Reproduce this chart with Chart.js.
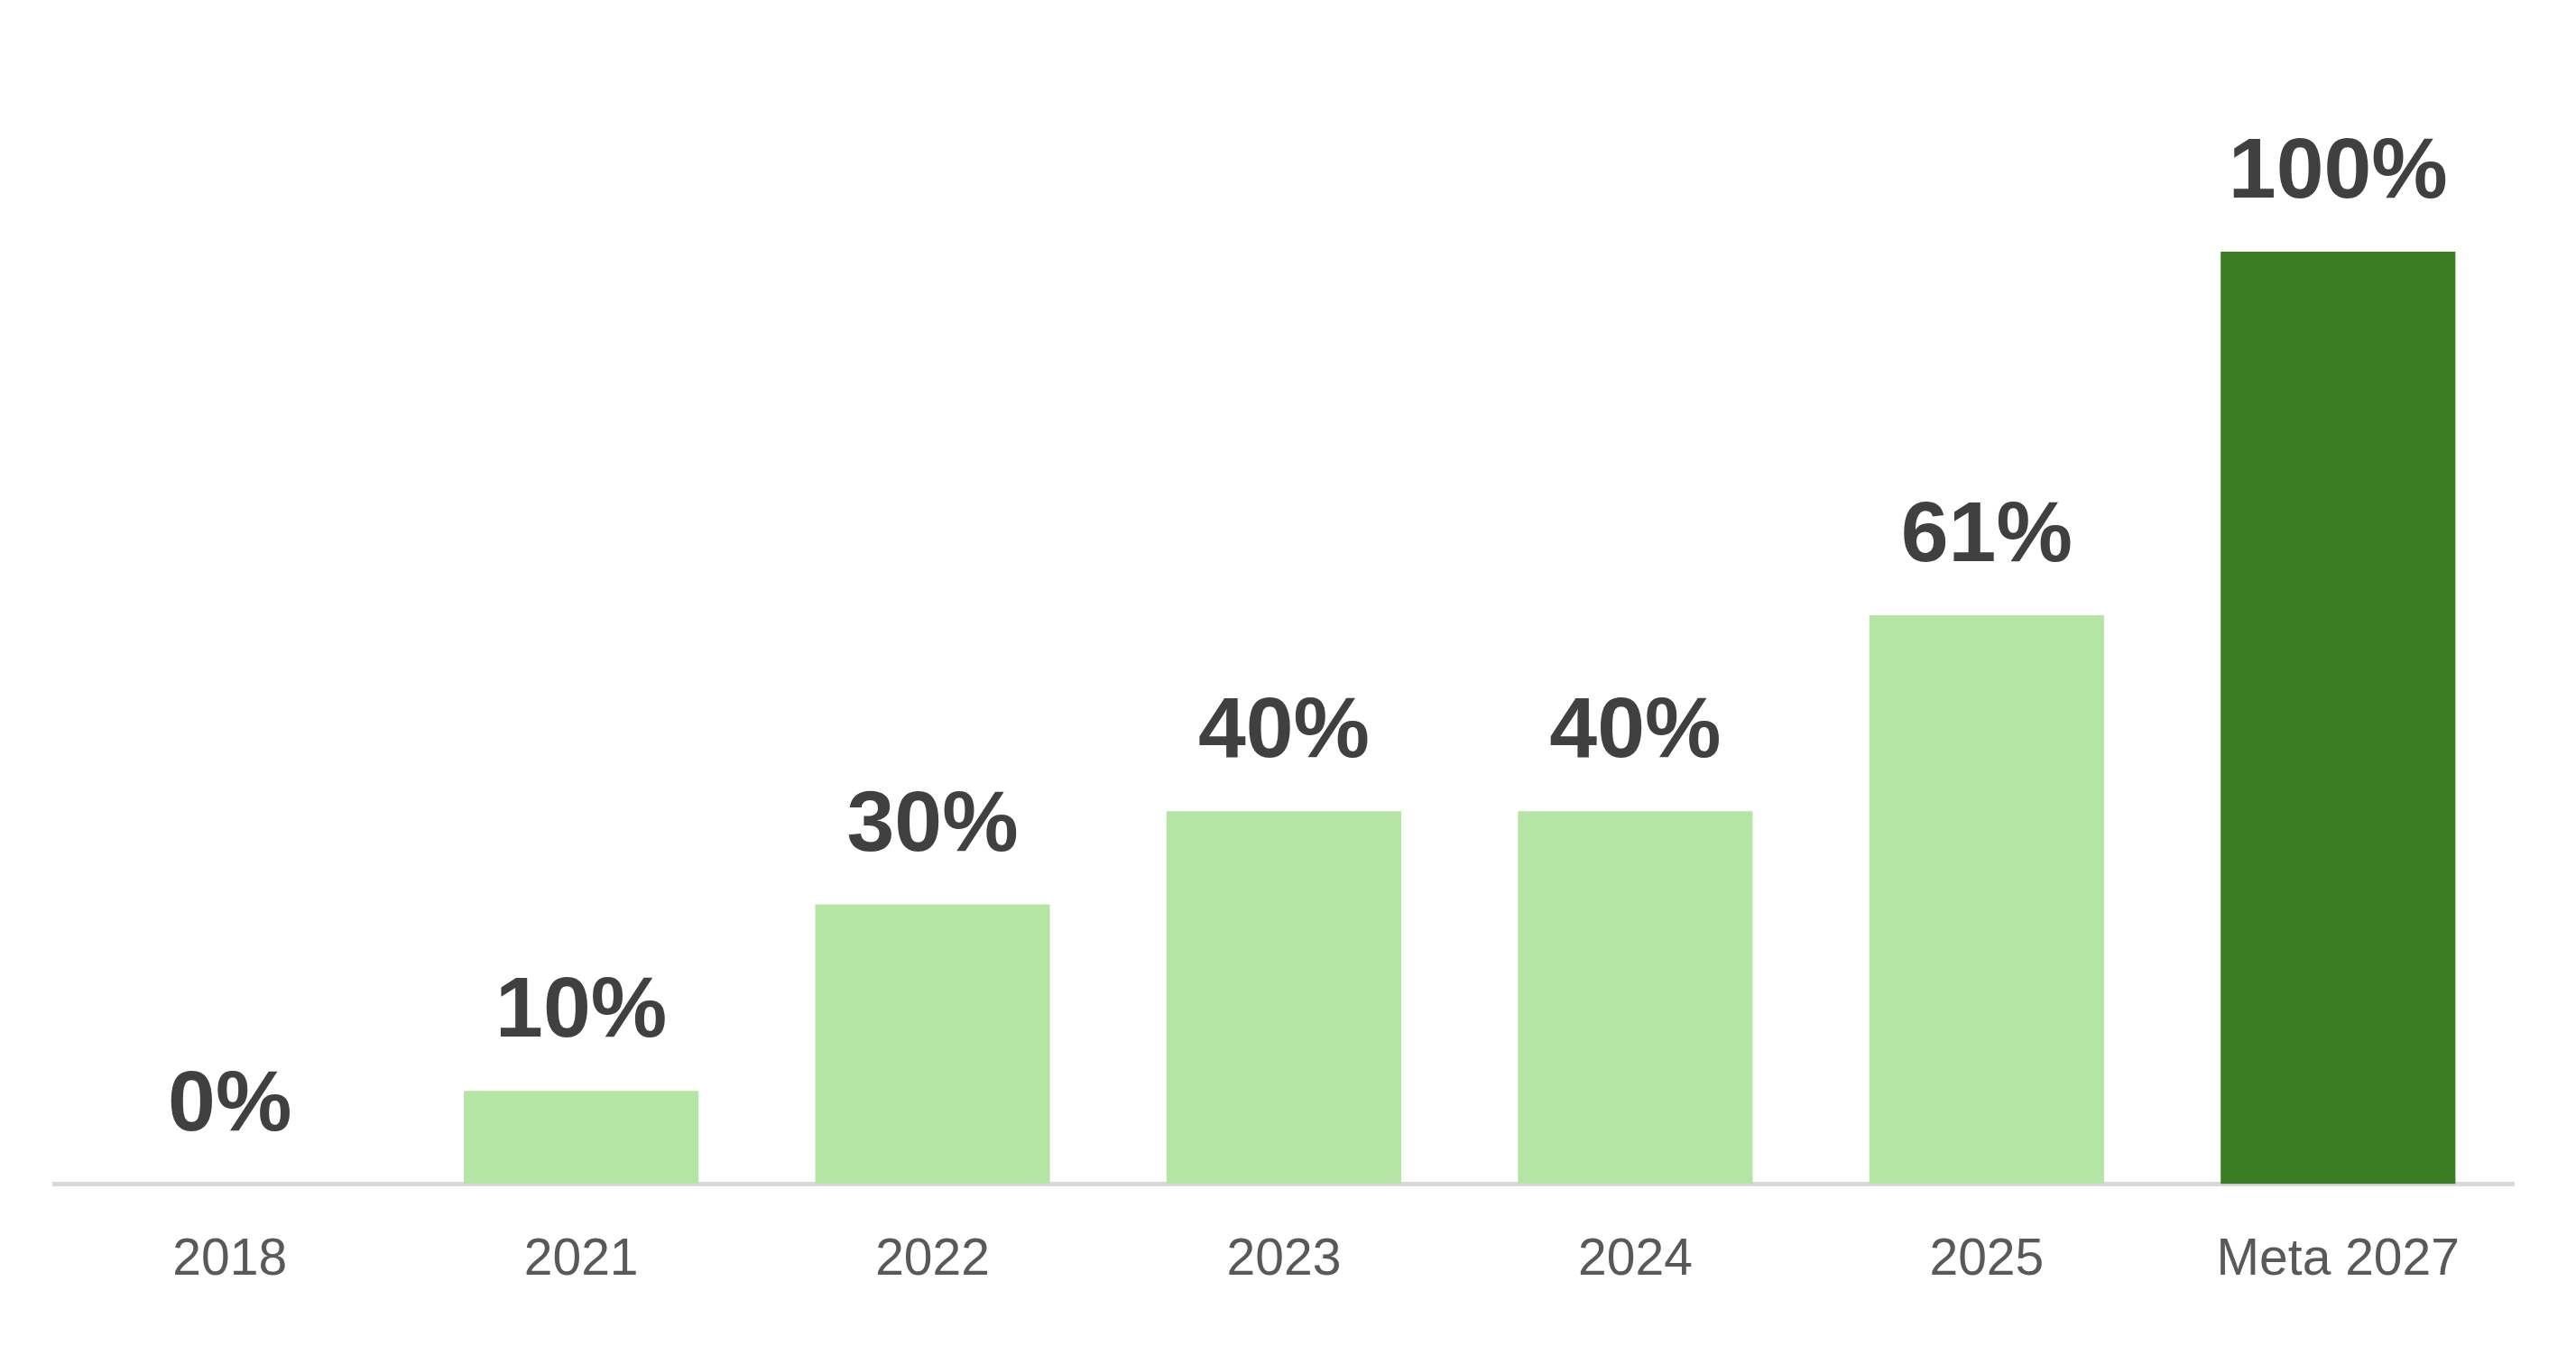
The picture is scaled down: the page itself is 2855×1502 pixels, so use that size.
<!DOCTYPE html>
<html lang="es">
<head>
    <meta charset="UTF-8">
    <title>Meta 2027</title>
    <script src="https://cdn.jsdelivr.net/npm/chart.js"></script>
    <style>
        body {
            margin: 0;
            background: #ffffff;
        }
        #chart {
            display: block;
        }
    </style>
</head>
<body>
    <canvas id="chart" width="2855" height="1502"></canvas>

    <script>
        const years = ['2018', '2021', '2022', '2023', '2024', '2025', 'Meta 2027'];
        const progress = [0, 10, 30, 40, 40, 61, 100];
        const barColors = ['#b5e5a2', '#b5e5a2', '#b5e5a2', '#b5e5a2', '#b5e5a2', '#b5e5a2', '#3b7d23'];

        // draws the percentage above each bar
        const valueLabels = {
            id: 'valueLabels',
            afterDatasetsDraw(chart) {
                const ctx = chart.ctx;
                const meta = chart.getDatasetMeta(0);
                ctx.save();
                ctx.font = 'bold 95px "Liberation Sans", Arial, sans-serif';
                ctx.fillStyle = '#404040';
                ctx.textAlign = 'center';
                ctx.textBaseline = 'alphabetic';
                meta.data.forEach((bar, i) => {
                    ctx.fillText(progress[i] + '%', bar.x, bar.y - 60);
                });
                ctx.restore();
            }
        };

        new Chart(document.getElementById('chart'), {
            type: 'bar',
            data: {
                labels: years,
                datasets: [{
                    data: progress,
                    backgroundColor: barColors,
                    borderWidth: 0,
                    categoryPercentage: 1,
                    barPercentage: 0.668
                }]
            },
            options: {
                responsive: false,
                animation: false,
                layout: {
                    padding: { left: 60, right: 69, top: 279, bottom: 21 }
                },
                plugins: {
                    legend: { display: false },
                    tooltip: { enabled: false }
                },
                scales: {
                    x: {
                        grid: { display: false, drawTicks: false },
                        border: { display: true, color: '#d9d9d9', width: 5 },
                        ticks: {
                            color: '#595959',
                            padding: 50,
                            font: { family: '"Liberation Sans", Arial, sans-serif', size: 57 }
                        }
                    },
                    y: {
                        display: false,
                        min: 0,
                        max: 100
                    }
                }
            },
            plugins: [valueLabels]
        });
    </script>
</body>
</html>
